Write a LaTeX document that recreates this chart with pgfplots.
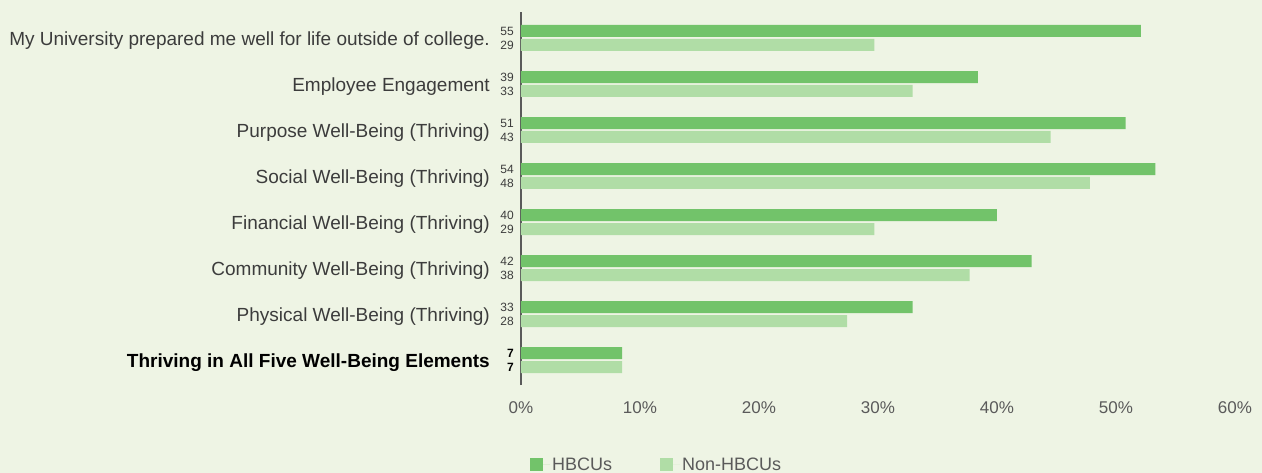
\documentclass[border=0pt]{standalone}
\usepackage{pgfplots}
\pgfplotsset{compat=1.18}
\usepackage{fontspec}
\setmainfont{Liberation Sans}
\definecolor{darkg}{RGB}{114,195,106}
\definecolor{lightg}{RGB}{176,221,166}
\definecolor{bgc}{RGB}{238,244,228}
\definecolor{txt}{RGB}{60,60,60}
\definecolor{axc}{RGB}{90,90,90}
\begin{document}
\begin{tikzpicture}
\path[use as bounding box, fill=bgc] (-521bp,-88bp) rectangle (741bp,385bp);
\begin{axis}[
  at={(0,0)}, anchor=south west,
  scale only axis, width=714bp, height=373bp,
  xmin=0, xmax=60, ymin=-8.543, ymax=-0.435,
  axis lines*=left,
  x axis line style={draw=none},
  y axis line style={draw=axc, line width=1.5bp},
  major tick length=0pt,
  xtick={0,10,20,30,40,50,60},
  xticklabels={0\%,10\%,20\%,30\%,40\%,50\%,60\%},
  xticklabel style={inner sep=0pt, anchor=north, yshift=-16bp, font=\fontsize{17bp}{19bp}\selectfont, text=axc},
  ytick={-8,-7,-6,-5,-4,-3,-2,-1},
  yticklabels={\textbf{\color{black}Thriving in All Five Well-Being Elements},
    Physical Well-Being (Thriving),
    Community Well-Being (Thriving),
    Financial Well-Being (Thriving),
    Social Well-Being (Thriving),
    Purpose Well-Being (Thriving),
    Employee Engagement,
    My University prepared me well for life outside of college.},
  yticklabel style={inner sep=0pt, anchor=east, xshift=-31bp, yshift=-2.5bp, font=\fontsize{19bp}{21bp}\selectfont, text=txt},
  legend style={at={(0.19,-0.214)}, anchor=center, draw=none, fill=none,
    legend columns=2, font=\fontsize{18bp}{20bp}\selectfont, text=axc,
    /tikz/every even column/.append style={column sep=46bp}},
  legend cell align=left,
  clip=false,
]
\addplot[xbar, bar width=12bp, bar shift=0pt, fill=darkg, draw=none,
  legend image code/.code={\fill[darkg] (0bp,-6.5bp) rectangle (13bp,6.5bp); \path (0bp,0bp) -- (20bp,0bp);}]
  coordinates {(52.1,-0.848) (38.4,-1.848) (50.8,-2.848) (53.3,-3.848)
               (40.0,-4.848) (42.9,-5.848) (32.9,-6.848) (8.5,-7.848)};
\addlegendentry{HBCUs}
\addplot[xbar, bar width=12bp, bar shift=0pt, fill=lightg, draw=none,
  legend image code/.code={\fill[lightg] (0bp,-6.5bp) rectangle (13bp,6.5bp); \path (0bp,0bp) -- (20bp,0bp);}]
  coordinates {(29.7,-1.152) (32.9,-2.152) (44.5,-3.152) (47.8,-4.152)
               (29.7,-5.152) (37.7,-6.152) (27.4,-7.152) (8.5,-8.152)};
\addlegendentry{Non-HBCUs}
\addplot[forget plot, draw=none, mark=none, nodes near coords, point meta=explicit symbolic,
  nodes near coords style={anchor=east, inner sep=0pt, xshift=-7bp, font=\fontsize{12bp}{13bp}\selectfont, text=txt}]
  table[meta=l] {
x y l
0 -0.848 55
0 -1.152 29
0 -1.848 39
0 -2.152 33
0 -2.848 51
0 -3.152 43
0 -3.848 54
0 -4.152 48
0 -4.848 40
0 -5.152 29
0 -5.848 42
0 -6.152 38
0 -6.848 33
0 -7.152 28
};
\addplot[forget plot, draw=none, mark=none, nodes near coords, point meta=explicit symbolic,
  nodes near coords style={anchor=east, inner sep=0pt, xshift=-7bp, font=\bfseries\fontsize{12bp}{13bp}\selectfont, text=black}]
  table[meta=l] {
x y l
0 -7.848 7
0 -8.152 7
};
\end{axis}
\end{tikzpicture}
\end{document}
